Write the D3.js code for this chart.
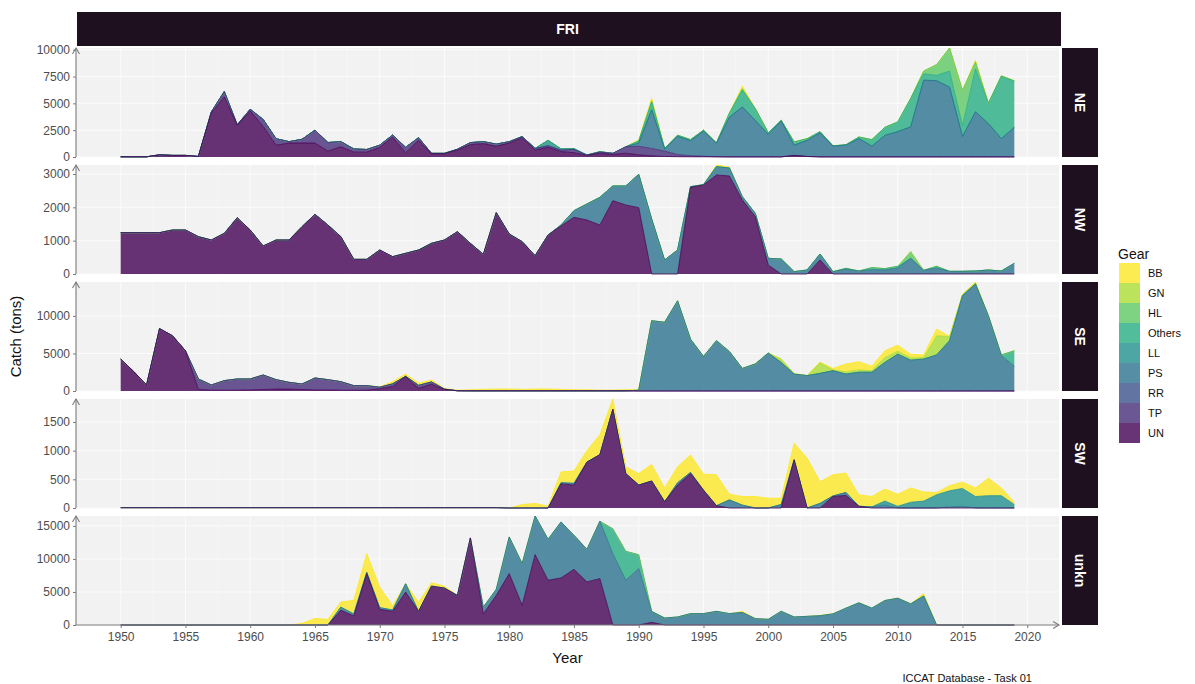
<!DOCTYPE html>
<html><head><meta charset="utf-8">
<script src="https://cdn.jsdelivr.net/npm/d3@7"></script>
<style>body{margin:0;background:#fff}svg{display:block}text{font-family:"Liberation Sans",Arial,sans-serif}</style>
</head><body><svg id="c" width="1195" height="684"></svg>
<script>
// ---------- categories ----------
const years = d3.range(1950, 2020);
const gears = ["BB","GN","HL","Others","LL","PS","RR","TP","UN"];
const gearColors = ["#FDE725","#AADC32","#5DC863","#27AD81","#21908C","#2C728E","#3B528B","#472D7B","#440154"];
const regions = ["NE","NW","SE","SW","unkn"];
const xTicks = [1950,1955,1960,1965,1970,1975,1980,1985,1990,1995,2000,2005,2010,2015,2020];
const yTicksNE = [0,2500,5000,7500,10000];
const yTicksNW = [0,1000,2000,3000];
const yTicksSE = [0,5000,10000];
const yTicksSW = [0,500,1000,1500];
const yTicksUnkn = [0,5000,10000,15000];

// ---------- NE ----------
const NE_UN = [20,20,20,200,150,150,50,4100,5600,2950, 4300,2850,1100,1300,1300,1300,550,950,450,450, 900,1850,400,1550,300,300,650,1150,1250,1000, 1300,1800,650,900,500,400,150,350,250,350, 200,100,50,30,20,20,10,10,10,10, 10,10,150,50,10,10,10,10,10,10, 10,10,10,10,10,10,10,10,10,10];
const NE_TP = [0,0,0,0,0,0,0,100,500,50, 150,650,600,130,350,1200,800,480,300,250, 200,200,500,250,40,40,70,190,180,200, 130,100,150,150,150,300,30,100,90,600, 800,700,500,200,100,50,20,0,0,0, 0,0,0,0,0,0,0,0,0,0, 0,0,0,0,0,0,0,0,0,0];
const NE_PS = [0,0,0,0,0,0,0,0,0,0, 0,0,0,0,0,0,0,0,0,0, 0,0,0,0,0,0,0,0,0,0, 0,0,0,0,0,0,0,0,0,0, 300,3600,200,1700,1400,2350,1250,3700,4650,3400, 2100,3350,950,1500,2250,1000,1100,1700,1000,2000, 2350,2800,7150,7100,6500,1900,4200,3100,1700,2750];
const NE_LL = [0,0,0,0,0,0,0,0,0,0, 0,0,0,0,0,0,0,0,0,0, 0,0,0,0,0,0,0,0,0,0, 0,0,0,500,100,80,0,50,0,0, 0,0,0,0,0,0,0,0,0,0, 0,0,0,0,0,0,0,0,0,0, 0,0,0,0,0,0,0,0,0,0];
const NE_Others = [0,0,0,0,0,0,0,0,0,0, 0,0,0,0,0,0,0,0,0,0, 0,0,0,0,0,0,0,0,0,0, 0,0,0,0,0,0,0,0,0,0, 200,750,50,100,100,80,30,380,1600,1100, 150,60,300,150,100,30,30,150,600,750, 900,2650,600,500,1500,1000,4000,1900,5800,4300];
const NE_HL = [0,0,0,0,0,0,0,0,0,0, 0,0,0,0,0,0,0,0,0,0, 0,0,0,0,0,0,0,0,0,0, 0,0,0,0,0,0,0,0,0,0, 0,0,0,0,0,0,0,0,0,0, 0,0,0,0,0,0,0,0,0,0, 0,0,250,1000,2150,3300,600,0,50,50];
const NE_GN = [0,0,0,0,0,0,0,0,0,0, 0,0,0,0,0,0,0,0,0,0, 0,0,0,0,0,0,0,0,0,0, 0,0,0,0,0,0,0,0,0,0, 0,100,0,0,0,0,0,0,150,0, 0,0,0,0,0,0,0,0,0,0, 0,0,0,0,0,0,100,0,0,0];
const NE_BB = [0,0,0,0,0,0,0,0,0,0, 0,0,0,0,0,0,0,0,0,0, 0,0,0,0,0,0,0,0,0,0, 0,0,0,0,0,0,0,0,0,0, 100,250,0,0,0,0,0,0,200,0, 0,0,0,0,0,0,0,0,0,0, 0,0,0,0,0,0,100,0,0,0];

// ---------- NW ----------
const NW_UN = [1240,1240,1240,1240,1320,1320,1120,1020,1220,1690, 1320,840,1020,1020,1420,1790,1470,1120,440,440, 720,520,620,720,920,1020,1270,920,590,1840, 1200,970,550,1170,1440,1700,1620,1470,2200,2070, 1990,0,0,0,2600,2670,2970,2940,2220,1720, 270,0,0,0,420,0,0,0,0,0, 0,0,0,0,0,0,0,0,0,0];
const NW_PS = [0,0,0,0,0,0,0,0,0,0, 0,0,0,0,0,0,0,0,0,0, 0,0,0,0,0,0,0,0,0,0, 0,0,0,0,30,200,480,830,440,570, 1000,1650,420,720,20,10,250,240,100,100, 200,450,70,120,180,70,150,90,130,120, 180,470,110,180,80,80,90,120,90,320];
const NW_Others = [0,0,0,0,0,0,0,0,0,0, 0,0,0,0,0,0,0,0,0,0, 0,0,0,0,0,0,0,0,0,0, 0,0,0,0,0,0,0,0,0,0, 0,0,0,0,0,0,0,0,0,0, 0,0,0,0,0,0,20,0,60,40, 50,0,0,50,0,0,0,0,0,0];
const NW_HL = [0,0,0,0,0,0,0,0,0,0, 0,0,0,0,0,0,0,0,0,0, 0,0,0,0,0,0,0,0,0,0, 0,0,0,0,0,0,0,0,0,0, 0,0,0,0,0,0,0,0,0,0, 0,0,0,0,0,0,0,0,0,0, 0,200,0,0,0,0,0,0,0,0];
const NW_BB = [0,0,0,0,0,0,0,0,0,0, 0,0,0,0,0,0,0,0,0,0, 0,0,0,0,0,0,0,0,0,0, 0,0,0,0,0,0,0,0,0,0, 0,0,0,0,0,0,50,30,0,0, 0,0,0,0,0,0,0,0,0,0, 0,0,0,0,0,0,0,0,0,0];

// ---------- SE ----------
const SE_UN = [4250,2600,800,8300,7350,5350,200,100,100,100, 150,200,250,250,200,150,150,100,100,100, 300,600,1900,350,900,200,30,20,20,20, 20,20,20,20,20,20,20,20,20,20, 0,0,0,0,0,0,0,0,0,0, 0,0,0,0,0,0,0,0,0,0, 0,0,0,0,0,0,0,0,0,0];
const SE_TP = [0,0,0,0,0,0,1400,700,1280,1500, 1450,1930,1260,900,730,1580,1360,1140,610,610, 200,350,50,400,300,50,0,0,0,0, 0,0,0,0,0,0,0,0,0,0, 0,0,0,0,0,0,0,0,0,0, 0,0,0,0,0,0,0,0,0,0, 0,0,0,0,0,0,0,0,0,0];
const SE_PS = [0,0,0,0,0,0,0,0,0,0, 0,0,0,0,0,0,0,0,0,0, 0,0,0,0,0,0,0,0,0,0, 0,0,0,0,0,0,0,0,0,0, 100,9350,9150,12000,6900,4600,6700,5250,3000,3600, 5050,3800,2250,2050,2350,2700,2250,2500,2500,3800, 4900,4100,4250,4800,6700,12700,14250,10000,4700,3300];
const SE_Others = [0,0,0,0,0,0,0,0,0,0, 0,0,0,0,0,0,0,0,0,0, 0,0,0,0,0,0,0,0,0,0, 0,0,0,0,0,0,0,0,0,0, 0,0,0,0,0,0,0,0,0,0, 0,0,0,0,0,0,0,0,0,0, 0,0,0,0,0,0,0,0,100,2050];
const SE_GN = [0,0,0,0,0,0,0,0,0,0, 0,0,0,0,0,0,0,0,0,0, 0,0,0,0,0,0,0,0,0,0, 0,0,0,0,0,0,0,0,0,0, 0,0,0,0,0,0,0,0,0,0, 0,450,50,0,1400,100,300,300,200,650, 400,300,200,2550,550,100,100,0,0,0];
const SE_BB = [0,0,0,0,0,0,0,0,0,0, 0,0,0,0,0,0,0,0,0,0, 50,300,300,300,250,100,80,150,200,250, 250,200,250,250,200,150,150,100,100,150, 80,0,0,0,0,0,0,0,0,0, 0,0,0,0,100,200,1050,1100,600,900, 800,500,350,900,0,100,160,0,0,0];

// ---------- SW ----------
const SW_UN = [5,5,5,5,5,5,5,5,5,5, 5,5,5,5,5,5,5,5,5,5, 5,5,5,5,5,5,5,5,5,5, 0,0,0,0,420,400,800,930,1720,600, 400,470,110,400,600,310,40,0,0,0, 0,0,840,0,0,200,220,30,0,0, 0,0,0,0,0,0,0,0,0,0];
const SW_PS = [0,0,0,0,0,0,0,0,0,0, 0,0,0,0,0,0,0,0,0,0, 0,0,0,0,0,0,0,0,0,0, 0,0,0,0,20,30,0,0,0,0, 0,0,0,40,20,0,0,140,50,0, 0,60,0,0,80,10,50,0,20,50, 0,0,0,0,20,30,0,0,0,0];
const SW_LL = [0,0,0,0,0,0,0,0,0,0, 0,0,0,0,0,0,0,0,0,0, 0,0,0,0,0,0,0,0,0,0, 0,0,0,0,0,0,0,0,0,0, 0,0,0,0,0,0,0,0,0,0, 0,0,0,0,0,0,0,0,0,70, 30,100,120,230,280,310,200,215,215,60];
const SW_BB = [0,0,0,0,0,0,0,0,0,0, 0,0,0,0,0,0,0,0,0,0, 0,0,0,0,0,0,0,0,0,0, 0,60,80,30,190,215,200,345,180,120, 200,290,240,280,305,280,540,100,150,200, 170,110,290,870,380,370,340,200,180,210, 210,250,160,40,90,110,150,305,135,40];

// ---------- unkn ----------
const UK_UN = [0,0,0,0,0,0,0,0,0,0, 0,0,0,0,0,0,0,2240,1360,7780, 2370,2070,4980,2070,5880,5580,4470,13180,1700,4470, 7780,2980,10650,6770,7120,8430,6520,7020,0,0, 0,400,0,0,0,0,0,0,0,0, 0,0,0,0,0,0,0,0,0,0, 0,0,0,0,0,0,0,0,0,0];
const UK_PS = [0,0,0,0,0,0,0,0,0,0, 0,0,0,0,0,0,0,460,300,200, 255,200,1260,0,0,0,0,0,1000,930, 5550,6310,5850,6210,8480,5150,4940,8690,10810,6770, 8530,1620,1060,1210,1720,1720,2070,1720,1900,960, 860,2070,1210,1310,1400,1680,2550,3350,2550,3700, 4050,3200,4390,0,0,0,0,0,0,0];
const UK_Others = [0,0,0,0,0,0,0,0,0,0, 0,0,0,0,0,0,0,0,0,0, 0,0,0,0,0,0,0,0,0,0, 0,0,0,0,0,0,0,0,3760,4390, 2120,50,0,0,0,0,0,0,0,0, 0,0,0,0,0,0,0,0,0,0, 0,0,0,0,0,0,0,0,0,0];
const UK_BB = [0,0,0,0,0,0,0,0,0,0, 0,0,0,0,250,1000,850,780,2080,2830, 3135,630,0,1360,510,300,0,0,0,0, 0,0,0,0,0,0,0,0,0,0, 0,0,0,0,0,0,0,0,170,0, 0,0,0,0,60,40,0,30,30,0, 40,0,360,0,0,0,0,0,0,0];

// ---------- build tables ----------
const regionSeries = {
  NE: {UN:NE_UN, TP:NE_TP, PS:NE_PS, LL:NE_LL, Others:NE_Others, HL:NE_HL, GN:NE_GN, BB:NE_BB},
  NW: {UN:NW_UN, PS:NW_PS, Others:NW_Others, HL:NW_HL, BB:NW_BB},
  SE: {UN:SE_UN, TP:SE_TP, PS:SE_PS, Others:SE_Others, GN:SE_GN, BB:SE_BB},
  SW: {UN:SW_UN, PS:SW_PS, LL:SW_LL, BB:SW_BB},
  unkn: {UN:UK_UN, PS:UK_PS, Others:UK_Others, BB:UK_BB}
};
const regionTicks = {NE:yTicksNE, NW:yTicksNW, SE:yTicksSE, SW:yTicksSW, unkn:yTicksUnkn};

const svg = d3.select("#c");
const left = 76, right = 1059;
const panelTop0 = 48, panelH = 109, panelGap = 8;
const colorOf = d3.scaleOrdinal(gears, gearColors);
const x = d3.scaleLinear().domain([1946.55, 2022.45]).range([left, right]);
const axisCol = "#7a7a7a", labCol = "#4d4d4d";

// top strip
svg.append("rect").attr("x", left+1).attr("y", 12).attr("width", right-left+1).attr("height", 34).attr("fill", "#1f1020");
svg.append("text").attr("x", (left+right)/2).attr("y", 34).attr("text-anchor","middle")
  .attr("fill","#fff").attr("font-weight","bold").attr("font-size",14).text("FRI");

const stackKeys = gears.slice().reverse(); // UN bottom ... BB top

regions.forEach((reg, i) => {
  const top = panelTop0 + i*(panelH+panelGap), bottom = top + panelH;
  const ser = regionSeries[reg];
  const table = years.map((yr, k) => {
    const row = {year: yr};
    gears.forEach(g => row[g] = ser[g] ? ser[g][k] : 0);
    return row;
  });
  const stack = d3.stack().keys(stackKeys)(table);
  const maxV = d3.max(table, r => d3.sum(gears, g => r[g]));
  const y = d3.scaleLinear().domain([0, maxV]).range([bottom, top]);
  const g = svg.append("g");
  g.append("rect").attr("x", left).attr("y", top).attr("width", right-left).attr("height", panelH).attr("fill", "#f2f2f2");
  const minor = xTicks.slice(0,-1).map(t => t+2.5);
  g.selectAll(".gm").data(minor).join("line").attr("x1", d=>x(d)).attr("x2", d=>x(d)).attr("y1", top).attr("y2", bottom)
    .attr("stroke", "#fbfbfb").attr("stroke-width", 0.5);
  g.selectAll(".gx").data(xTicks).join("line").attr("x1", d=>x(d)).attr("x2", d=>x(d)).attr("y1", top).attr("y2", bottom)
    .attr("stroke", "#fbfbfb").attr("stroke-width", 1);
  g.selectAll(".gy").data(regionTicks[reg]).join("line").attr("x1", left).attr("x2", right).attr("y1", d=>y(d)).attr("y2", d=>y(d))
    .attr("stroke", "#fbfbfb").attr("stroke-width", 1);
  const present = stack.filter(s => ser[s.key]);
  const area = d3.area().x(d => x(d.data.year)).y0(d => y(d[0])).y1(d => y(d[1]));
  const line = d3.line().x(d => x(d.data.year)).y(d => y(d[1]));
  g.selectAll(".ar").data(present).join("path").attr("d", area)
    .attr("fill", d => colorOf(d.key)).attr("fill-opacity", 0.8);
  g.selectAll(".ln").data(present.slice().reverse()).join("path").attr("d", line)
    .attr("fill", "none").attr("stroke", d => colorOf(d.key)).attr("stroke-width", 0.8);
  g.append("line").attr("x1", left).attr("x2", left).attr("y1", bottom).attr("y2", top).attr("stroke", axisCol).attr("stroke-width", 1.1);
  g.append("path").attr("d", `M${left-3.5},${top+6}L${left},${top}L${left+3.5},${top+6}`).attr("fill","none").attr("stroke", axisCol).attr("stroke-width", 1.1);
  const yAxis = d3.axisLeft(y).tickValues(regionTicks[reg]).tickFormat(d3.format("d")).tickSize(3).tickPadding(3);
  const ya = svg.append("g").attr("transform", `translate(${left},0)`).call(yAxis);
  ya.select(".domain").remove();
  ya.selectAll("line").attr("stroke", axisCol);
  ya.selectAll("text").attr("fill", labCol).attr("font-size", 12).attr("font-family", "Liberation Sans, Arial, sans-serif");
  svg.append("rect").attr("x", right+3).attr("y", top).attr("width", 36).attr("height", panelH).attr("fill", "#1f1020");
  svg.append("text").attr("transform", `translate(${right+21},${top+panelH/2}) rotate(90)`).attr("text-anchor","middle")
    .attr("dy", "0.35em").attr("fill","#fff").attr("font-weight","bold").attr("font-size",14).text(reg);
  if (i === regions.length-1) {
    g.append("line").attr("x1", left).attr("x2", right).attr("y1", bottom).attr("y2", bottom).attr("stroke", axisCol).attr("stroke-width", 1.1);
    g.append("path").attr("d", `M${right-6},${bottom-3.5}L${right},${bottom}L${right-6},${bottom+3.5}`).attr("fill","none").attr("stroke", axisCol).attr("stroke-width", 1.1);
    const xAxis = d3.axisBottom(x).tickValues(xTicks).tickFormat(d3.format("d")).tickSize(3).tickPadding(4);
    const xa = svg.append("g").attr("transform", `translate(0,${bottom})`).call(xAxis);
    xa.select(".domain").remove();
    xa.selectAll("line").attr("stroke", axisCol);
    xa.selectAll("text").attr("fill", labCol).attr("font-size", 12).attr("font-family", "Liberation Sans, Arial, sans-serif");
  }
});

svg.append("text").attr("x", (left+right)/2).attr("y", 663).attr("text-anchor","middle").attr("font-size", 15).attr("fill","#111").text("Year");
svg.append("text").attr("transform", `translate(21,${(panelTop0 + panelTop0+5*panelH+4*panelGap)/2}) rotate(-90)`).attr("text-anchor","middle")
  .attr("font-size", 15).attr("fill","#111").text("Catch (tons)");
svg.append("text").attr("x", 1032).attr("y", 682).attr("text-anchor","end").attr("font-size", 11).attr("fill","#111").text("ICCAT Database - Task 01");

// legend
const lg = svg.append("g").attr("transform", "translate(1118,0)");
lg.append("text").attr("x", 0).attr("y", 254).attr("dy","0.35em").attr("font-size", 14).attr("fill","#111").text("Gear");
const keyH = 20, key0 = 263;
gears.forEach((gname, k) => {
  lg.append("rect").attr("x", 1).attr("y", key0 + k*keyH).attr("width", 21).attr("height", keyH)
    .attr("fill", colorOf(gname)).attr("fill-opacity", 0.8);
  lg.append("text").attr("x", 30).attr("y", key0 + k*keyH + keyH/2).attr("dy","0.35em").attr("font-size", 11).attr("fill","#111").text(gname);
});
</script></body></html>
